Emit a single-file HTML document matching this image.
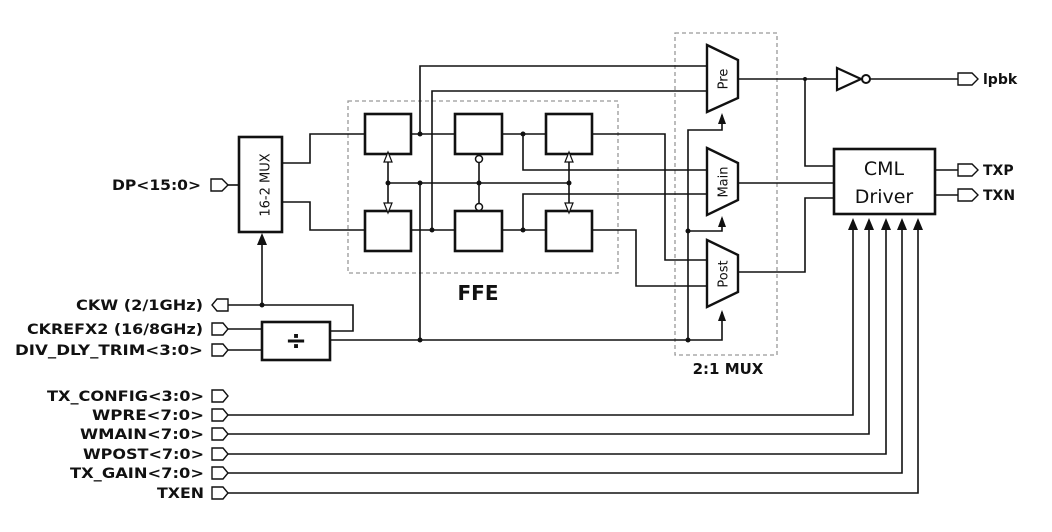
<!DOCTYPE html>
<html><head><meta charset="utf-8"><style>
html,body{margin:0;padding:0;background:#fff;}
svg{display:block;}
text{font-family:"DejaVu Sans","Liberation Sans",sans-serif;fill:#111;}
.lb{font-weight:bold;font-size:14px;}
</style></head><body>
<svg width="1052" height="532" viewBox="0 0 1052 532" xmlns="http://www.w3.org/2000/svg">
<g fill="none" stroke="#111" stroke-width="1.6">
<rect x="348" y="101" width="270" height="172" stroke="#999" stroke-width="1.3" stroke-dasharray="4,3"/>
<rect x="675" y="33" width="102" height="322" stroke="#999" stroke-width="1.3" stroke-dasharray="4,3"/>
<rect x="239" y="137" width="43" height="95" stroke-width="2.6"/>
<rect x="365" y="114" width="46" height="40" stroke-width="2.6"/>
<rect x="455" y="114" width="47" height="40" stroke-width="2.6"/>
<rect x="546" y="114" width="46" height="40" stroke-width="2.6"/>
<rect x="365" y="211" width="46" height="40" stroke-width="2.6"/>
<rect x="455" y="211" width="47" height="40" stroke-width="2.6"/>
<rect x="546" y="211" width="46" height="40" stroke-width="2.6"/>
<rect x="262" y="322" width="68" height="38" stroke-width="2.6"/>
<rect x="834" y="149" width="101" height="65" stroke-width="2.6"/>
<path d="M707,45 L738,60 L738,98 L707,112 Z" stroke-width="2.4"/>
<path d="M707,148 L738,163 L738,200 L707,215 Z" stroke-width="2.4"/>
<path d="M707,240 L738,255 L738,292 L707,307 Z" stroke-width="2.4"/>
<path d="M837,68 L861,79 L837,90 Z" stroke-width="2.2"/>
<circle cx="866" cy="79" r="4" stroke-width="2"/>
<path d="M282,163 H310 V134 H365"/>
<path d="M282,202 H310 V230 H365"/>
<path d="M411,134 H455 M502,134 H546 M411,230 H455 M502,230 H546"/>
<path d="M420,134 V66 H707"/>
<path d="M432,230 V91 H707"/>
<path d="M523,134 V170 H707"/>
<path d="M523,230 V194 H707"/>
<path d="M592,134 H665 V260 H707"/>
<path d="M592,230 H636 V286 H707"/>
<path d="M388,183 H569"/>
<path d="M388,158 V207"/>
<path d="M569,158 V207"/>
<path d="M479,162 V204"/>
<circle cx="479" cy="159" r="3.5" fill="#fff" stroke-width="1.5"/>
<circle cx="479" cy="207" r="3.5" fill="#fff" stroke-width="1.5"/>
<path d="M420,183 V340"/>
<path d="M330,340 H722 V312"/>
<path d="M688,340 V130 H722 V115"/>
<path d="M688,231 H722 V218"/>
<path d="M738,79 H837 M870,79 H958"/>
<path d="M805,79 V166 H834"/>
<path d="M738,183 H834"/>
<path d="M738,272 H805 V198 H834"/>
<path d="M935,170 H958 M935,195 H958"/>
<path d="M228,185 H239"/>
<path d="M228,305 H353 V331 H330"/>
<path d="M262,305 V244"/>
<path d="M228,329 H262 M228,350 H262"/>
<path d="M228,415 H853 V228"/>
<path d="M228,434 H869 V228"/>
<path d="M228,454 H886 V228"/>
<path d="M228,473 H902 V228"/>
<path d="M228,493 H918 V228"/>
</g>
<g fill="#111">
<path d="M257,245 L262,233 L267,245 Z"/>
<path d="M718,124 L722,113 L726,124 Z"/>
<path d="M718,227 L722,216 L726,227 Z"/>
<path d="M718,321 L722,310 L726,321 Z"/>
<path d="M848,230 L853,218 L858,230 Z"/>
<path d="M864,230 L869,218 L874,230 Z"/>
<path d="M881,230 L886,218 L891,230 Z"/>
<path d="M897,230 L902,218 L907,230 Z"/>
<path d="M913,230 L918,218 L923,230 Z"/>
</g>
<g fill="#fff" stroke="#111" stroke-width="1.2">
<path d="M384,162 L388,152 L392,162 Z"/>
<path d="M384,203 L388,213 L392,203 Z"/>
<path d="M565,162 L569,152 L573,162 Z"/>
<path d="M565,203 L569,213 L573,203 Z"/>
</g>
<g fill="#111">
<circle cx="420" cy="134" r="2.5"/><circle cx="523" cy="134" r="2.5"/>
<circle cx="432" cy="230" r="2.5"/><circle cx="523" cy="230" r="2.5"/>
<circle cx="388" cy="183" r="2.5"/><circle cx="420" cy="183" r="2.5"/>
<circle cx="479" cy="183" r="2.5"/><circle cx="569" cy="183" r="2.5"/>
<circle cx="420" cy="340" r="2.5"/><circle cx="688" cy="340" r="2.5"/>
<circle cx="688" cy="231" r="2.5"/><circle cx="262" cy="305" r="2.5"/>
<circle cx="805" cy="79" r="2"/>
</g>
<g fill="#fff" stroke="#111" stroke-width="1.4">
<path d="M211,179 H222 L228,185 L222,191 H211 Z"/>
<path d="M228,299 H217 L212,305 L217,311 H228 Z"/>
<path d="M212,323 H223 L228,329 L223,335 H212 Z"/>
<path d="M212,344 H223 L228,350 L223,356 H212 Z"/>
<path d="M212,390 H223 L228,396 L223,402 H212 Z"/>
<path d="M212,409 H223 L228,415 L223,421 H212 Z"/>
<path d="M212,428 H223 L228,434 L223,440 H212 Z"/>
<path d="M212,448 H223 L228,454 L223,460 H212 Z"/>
<path d="M212,467 H223 L228,473 L223,479 H212 Z"/>
<path d="M212,487 H223 L228,493 L223,499 H212 Z"/>
<path d="M958,73 H972 L978,79 L972,85 H958 Z"/>
<path d="M958,164 H972 L978,170 L972,176 H958 Z"/>
<path d="M958,189 H972 L978,195 L972,201 H958 Z"/>
</g>
<text x="266" y="185" font-size="13" text-anchor="middle" transform="rotate(-90 266 185)" dominant-baseline="middle">16-2 MUX</text>
<text x="296" y="349" font-size="26" font-weight="bold" text-anchor="middle">÷</text>
<text x="724" y="79" font-size="13" text-anchor="middle" transform="rotate(-90 724 79)" dominant-baseline="middle">Pre</text>
<text x="724" y="182" font-size="13" text-anchor="middle" transform="rotate(-90 724 182)" dominant-baseline="middle">Main</text>
<text x="724" y="274" font-size="13" text-anchor="middle" transform="rotate(-90 724 274)" dominant-baseline="middle">Post</text>
<text x="884" y="175" font-size="19" text-anchor="middle">CML</text>
<text x="884" y="203" font-size="19" text-anchor="middle">Driver</text>
<text x="478" y="300" font-size="20" font-weight="bold" text-anchor="middle">FFE</text>
<text x="728" y="374" font-size="15" font-weight="bold" text-anchor="middle">2:1 MUX</text>
<text x="983" y="84" class="lb" font-size="13">lpbk</text>
<text x="983" y="175" class="lb" font-size="13">TXP</text>
<text x="983" y="200" class="lb" font-size="13">TXN</text>
<text x="112" y="190" class="lb" textLength="89" lengthAdjust="spacingAndGlyphs">DP&lt;15:0&gt;</text>
<text x="76" y="310" class="lb" textLength="127" lengthAdjust="spacingAndGlyphs">CKW (2/1GHz)</text>
<text x="27" y="334" class="lb" textLength="176" lengthAdjust="spacingAndGlyphs">CKREFX2 (16/8GHz)</text>
<text x="15" y="355" class="lb" textLength="188" lengthAdjust="spacingAndGlyphs">DIV_DLY_TRIM&lt;3:0&gt;</text>
<text x="47" y="401" class="lb" textLength="157" lengthAdjust="spacingAndGlyphs">TX_CONFIG&lt;3:0&gt;</text>
<text x="92" y="420" class="lb" textLength="112" lengthAdjust="spacingAndGlyphs">WPRE&lt;7:0&gt;</text>
<text x="80" y="439" class="lb" textLength="124" lengthAdjust="spacingAndGlyphs">WMAIN&lt;7:0&gt;</text>
<text x="83" y="459" class="lb" textLength="121" lengthAdjust="spacingAndGlyphs">WPOST&lt;7:0&gt;</text>
<text x="70" y="478" class="lb" textLength="134" lengthAdjust="spacingAndGlyphs">TX_GAIN&lt;7:0&gt;</text>
<text x="157" y="498" class="lb" textLength="47" lengthAdjust="spacingAndGlyphs">TXEN</text>
</svg>
</body></html>
